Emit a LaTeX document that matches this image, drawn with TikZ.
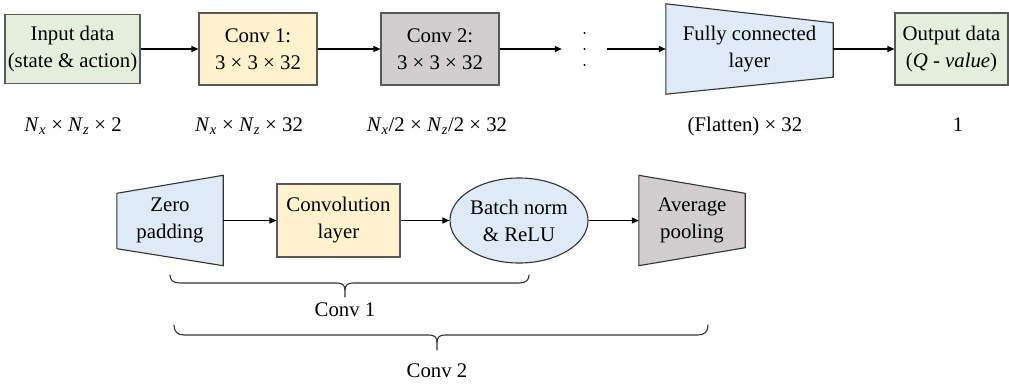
\documentclass[tikz,border=0pt]{standalone}
\usepackage{fontspec}
\setmainfont{Liberation Serif}
\usetikzlibrary{arrows.meta,calc,shapes.geometric,backgrounds}
\definecolor{cgreen}{HTML}{E2EFDA}
\definecolor{cyellow}{HTML}{FFF2CC}
\definecolor{cgray}{HTML}{D0CECE}
\definecolor{cblue}{HTML}{DEEBF7}
\definecolor{cborder}{HTML}{595959}
\definecolor{cdark}{HTML}{333333}
\newcommand\Nv[1]{\textit{N}\textsubscript{\textit{#1}}}
\begin{document}
\begin{tikzpicture}[x=1pt,y=-1pt,
  every node/.style={font=\fontsize{20.8}{27}\selectfont, inner sep=0pt, align=center},
  box/.style={draw=cborder, line width=1.1pt},
  trap/.style={draw=cdark, line width=1.1pt},
  arr/.style={draw=black, line width=1.1pt, -{Triangle[length=7pt,width=6pt]}},
  brc/.style={draw=cdark, line width=1.1pt, line cap=round}
]
\useasboundingbox (0,0) rectangle (1009,383);

% top row
\node[box, fill=cgreen, minimum width=135, minimum height=69] (in) at (72.5,49) {Input data\\(state \& action)};
\node[box, fill=cyellow, minimum width=118, minimum height=72] (c1) at (258,49) {Conv 1:\\3 × 3 × 32};
\node[box, fill=cgray, minimum width=118, minimum height=72] (c2) at (440,49) {Conv 2:\\3 × 3 × 32};
\node[minimum width=45, minimum height=40] (dots) at (584.5,49) {};
\fill[black] (dots.center) circle (1.2) ($(dots.center)+(0,-16)$) circle (1.2) ($(dots.center)+(0,16)$) circle (1.2);
\node[minimum width=167, minimum height=90] (fc) at (749.5,49) {Fully connected\\layer};
\begin{scope}[on background layer]
\filldraw[trap, fill=cblue] (fc.north west) -- ($(fc.north east)+(0,19)$) -- ($(fc.south east)+(0,-17)$) -- (fc.south west) -- cycle;
\end{scope}
\node[box, fill=cgreen, minimum width=113, minimum height=72] (out) at (951.5,49) {Output data\\(\textit{Q - value})};

\draw[arr] (in.east) -- (c1.west);
\draw[arr] (c1.east) -- (c2.west);
\draw[arr] (c2.east) -- (dots.west);
\draw[arr] (dots.east) -- (fc.west);
\draw[arr] (fc.east) -- (out.west);

% size labels
\node[anchor=base] (l1) at (73,131) {\Nv{x} × \Nv{z} × 2};
\node[anchor=base] (l2) at (249,131) {\Nv{x} × \Nv{z} × 32};
\node[anchor=base] (l3) at (437,131) {\Nv{x}/2 × \Nv{z}/2 × 32};
\node[anchor=base] (l4) at (745,131) {(Flatten) × 32};
\node[anchor=base] (l5) at (958,131) {1};

% bottom row
\node[minimum width=106, minimum height=90] (zp) at (170,220.5) {Zero\\padding};
\node[box, fill=cyellow, minimum width=123, minimum height=73] (cl) at (338.5,220.5) {Convolution\\layer};
\node[ellipse, trap, fill=cblue, minimum width=130, minimum height=85] (bn) at (519,220.5) {Batch norm\\\& ReLU};
\node[minimum width=106, minimum height=90] (ap) at (692,220.5) {Average\\pooling};
\begin{scope}[on background layer]
\filldraw[trap, fill=cblue] ($(zp.north west)+(0,18)$) -- (zp.north east) -- (zp.south east) -- ($(zp.south west)+(0,-17)$) -- cycle;
\filldraw[trap, fill=cgray] (ap.north west) -- ($(ap.north east)+(0,18)$) -- ($(ap.south east)+(0,-18)$) -- (ap.south west) -- cycle;
\end{scope}

\draw[arr] (zp.east) -- (cl.west);
\draw[arr] (cl.east) -- (bn.west);
\draw[arr] (bn.east) -- (ap.west);

% braces
\draw[brc] (170,275) .. controls (170,280) and (173,283) .. (180,283) -- (337,283) .. controls (342,283) and (345,285) .. (345,290) -- (345,297);
\draw[brc] (529,275) .. controls (529,280) and (526,283) .. (519,283) -- (353,283) .. controls (348,283) and (345,285) .. (345,290);
\node[anchor=base] (t1) at (345,316) {Conv 1};

\draw[brc] (174,325) .. controls (174,331) and (177,335) .. (184,335) -- (429,335) .. controls (434,335) and (437,337) .. (437,342) -- (437,350);
\draw[brc] (708,325) .. controls (708,331) and (705,335) .. (698,335) -- (445,335) .. controls (440,335) and (437,337) .. (437,342);
\node[anchor=base] (t2) at (437,377) {Conv 2};
\end{tikzpicture}
\end{document}
